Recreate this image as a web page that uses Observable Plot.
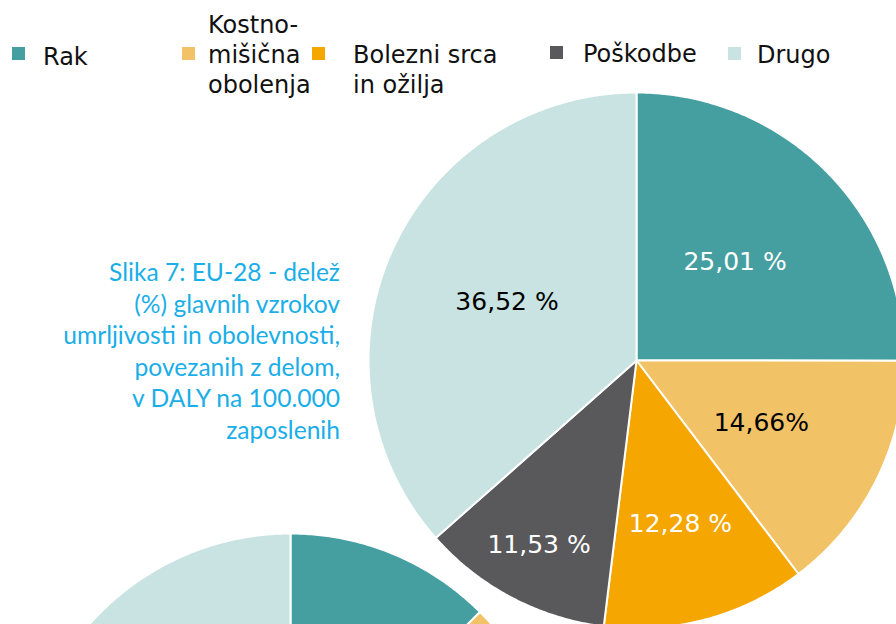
<!DOCTYPE html>
<html><head><meta charset="utf-8">
<script src="https://cdn.jsdelivr.net/npm/d3@7"></script>
<script src="https://cdn.jsdelivr.net/npm/@observablehq/plot@0.6"></script>
<style>
body{margin:0;background:#fff;}
#wrap{position:relative;width:896px;height:624px;overflow:hidden;}
#wrap svg{position:absolute;left:0;top:0;}
.lg{position:absolute;font-family:"DejaVu Sans";font-size:24px;line-height:30px;color:#111;white-space:pre;}
.sw{position:absolute;width:13px;height:13px;}
.cap{position:absolute;right:556px;top:256px;font-family:Lato;font-size:24.6px;line-height:31.6px;color:#1aaee8;text-align:right;white-space:pre;}
</style></head><body><div id="wrap"></div>
<script>
// ---- data ----
const categories = ["Rak", "Kostno-mišična obolenja", "Bolezni srca in ožilja", "Poškodbe", "Drugo"];
const legendLabels = ["Rak", "Kostno-\nmišična\nobolenja", "Bolezni srca\nin ožilja", "Poškodbe", "Drugo"];
const colors = ["#459fa1", "#f2c366", "#f5a600", "#59585b", "#c8e3e2"];
const euValues = [25.01, 14.66, 12.28, 11.53, 36.52];
const euLabels = ["25,01 %", "14,66%", "12,28 %", "11,53 %", "36,52 %"];
const secondValues = [12.5, 21.0, 14.5, 12.5, 39.5]; // second pie, mostly cropped (estimated)
const captionText = "Slika 7: EU-28 - delež\n(%) glavnih vzrokov\numrljivosti in obolevnosti,\npovezanih z delom,\nv DALY na 100.000\nzaposlenih";

// ---- styling / layout config ----
const labelColors = ["white", "black", "white", "white", "black"];
const labelRadius = [0.52, 0.52, 0.63, 0.78, 0.53];
const R = 268, C1 = [636, 360], C2 = [290, 801];
const W = 896, H = 624;
const toU = (px) => (px - C1[0]) / R, toV = (py) => (C1[1] - py) / R;
const c1 = [0, 0], c2 = [toU(C2[0]), toV(C2[1])];

const pieGen = d3.pie().sort(null).value(d => d).startAngle(0).endAngle(2 * Math.PI);

function slicePoints(values, c, pieId) {
  const rows = [];
  pieGen(values).forEach((a, i) => {
    const key = pieId + "-" + i;
    rows.push({key, cat: categories[i], x: c[0], y: c[1]});
    const n = Math.max(2, Math.ceil((a.endAngle - a.startAngle) / (Math.PI / 360)));
    for (let k = 0; k <= n; k++) {
      const t = a.startAngle + (a.endAngle - a.startAngle) * k / n;
      rows.push({key, cat: categories[i], x: c[0] + Math.sin(t), y: c[1] + Math.cos(t)});
    }
  });
  return rows;
}
const polys = [...slicePoints(euValues, c1, "eu"), ...slicePoints(secondValues, c2, "b")];
const labels = pieGen(euValues).map((a, i) => {
  const m = (a.startAngle + a.endAngle) / 2;
  return {x: c1[0] + labelRadius[i] * Math.sin(m), y: c1[1] + labelRadius[i] * Math.cos(m), text: euLabels[i], color: labelColors[i]};
});

const chart = Plot.plot({
  width: W, height: H, margin: 0,
  x: {domain: [toU(0), toU(W)], axis: null},
  y: {domain: [toV(H), toV(0)], axis: null},
  color: {domain: categories, range: colors},
  marks: [
    Plot.line(polys, {x: "x", y: "y", z: "key", fill: "cat", stroke: "white", strokeWidth: 2, curve: "linear-closed"}),
    Plot.text(labels, {x: "x", y: "y", text: "text", fill: "color", fontSize: 25, fontFamily: "DejaVu Sans"})
  ]
});
const wrap = document.getElementById("wrap");
wrap.appendChild(chart);

// legend (HTML overlay)
const legendPos = [[12, 47, 43, 41.7], [182, 47, 208, 9.7], [312, 47, 353, 39.7], [550, 46, 583, 38.7], [728, 47, 757, 39.7]];
legendLabels.forEach((t, i) => {
  const [sx, sy, tx, ty] = legendPos[i];
  const s = document.createElement("div"); s.className = "sw";
  s.style.left = sx + "px"; s.style.top = sy + "px"; s.style.background = colors[i];
  wrap.appendChild(s);
  const l = document.createElement("div"); l.className = "lg";
  l.style.left = tx + "px"; l.style.top = ty + "px"; l.textContent = t;
  wrap.appendChild(l);
});
const cap = document.createElement("div"); cap.className = "cap"; cap.textContent = captionText;
wrap.appendChild(cap);
</script></body></html>
